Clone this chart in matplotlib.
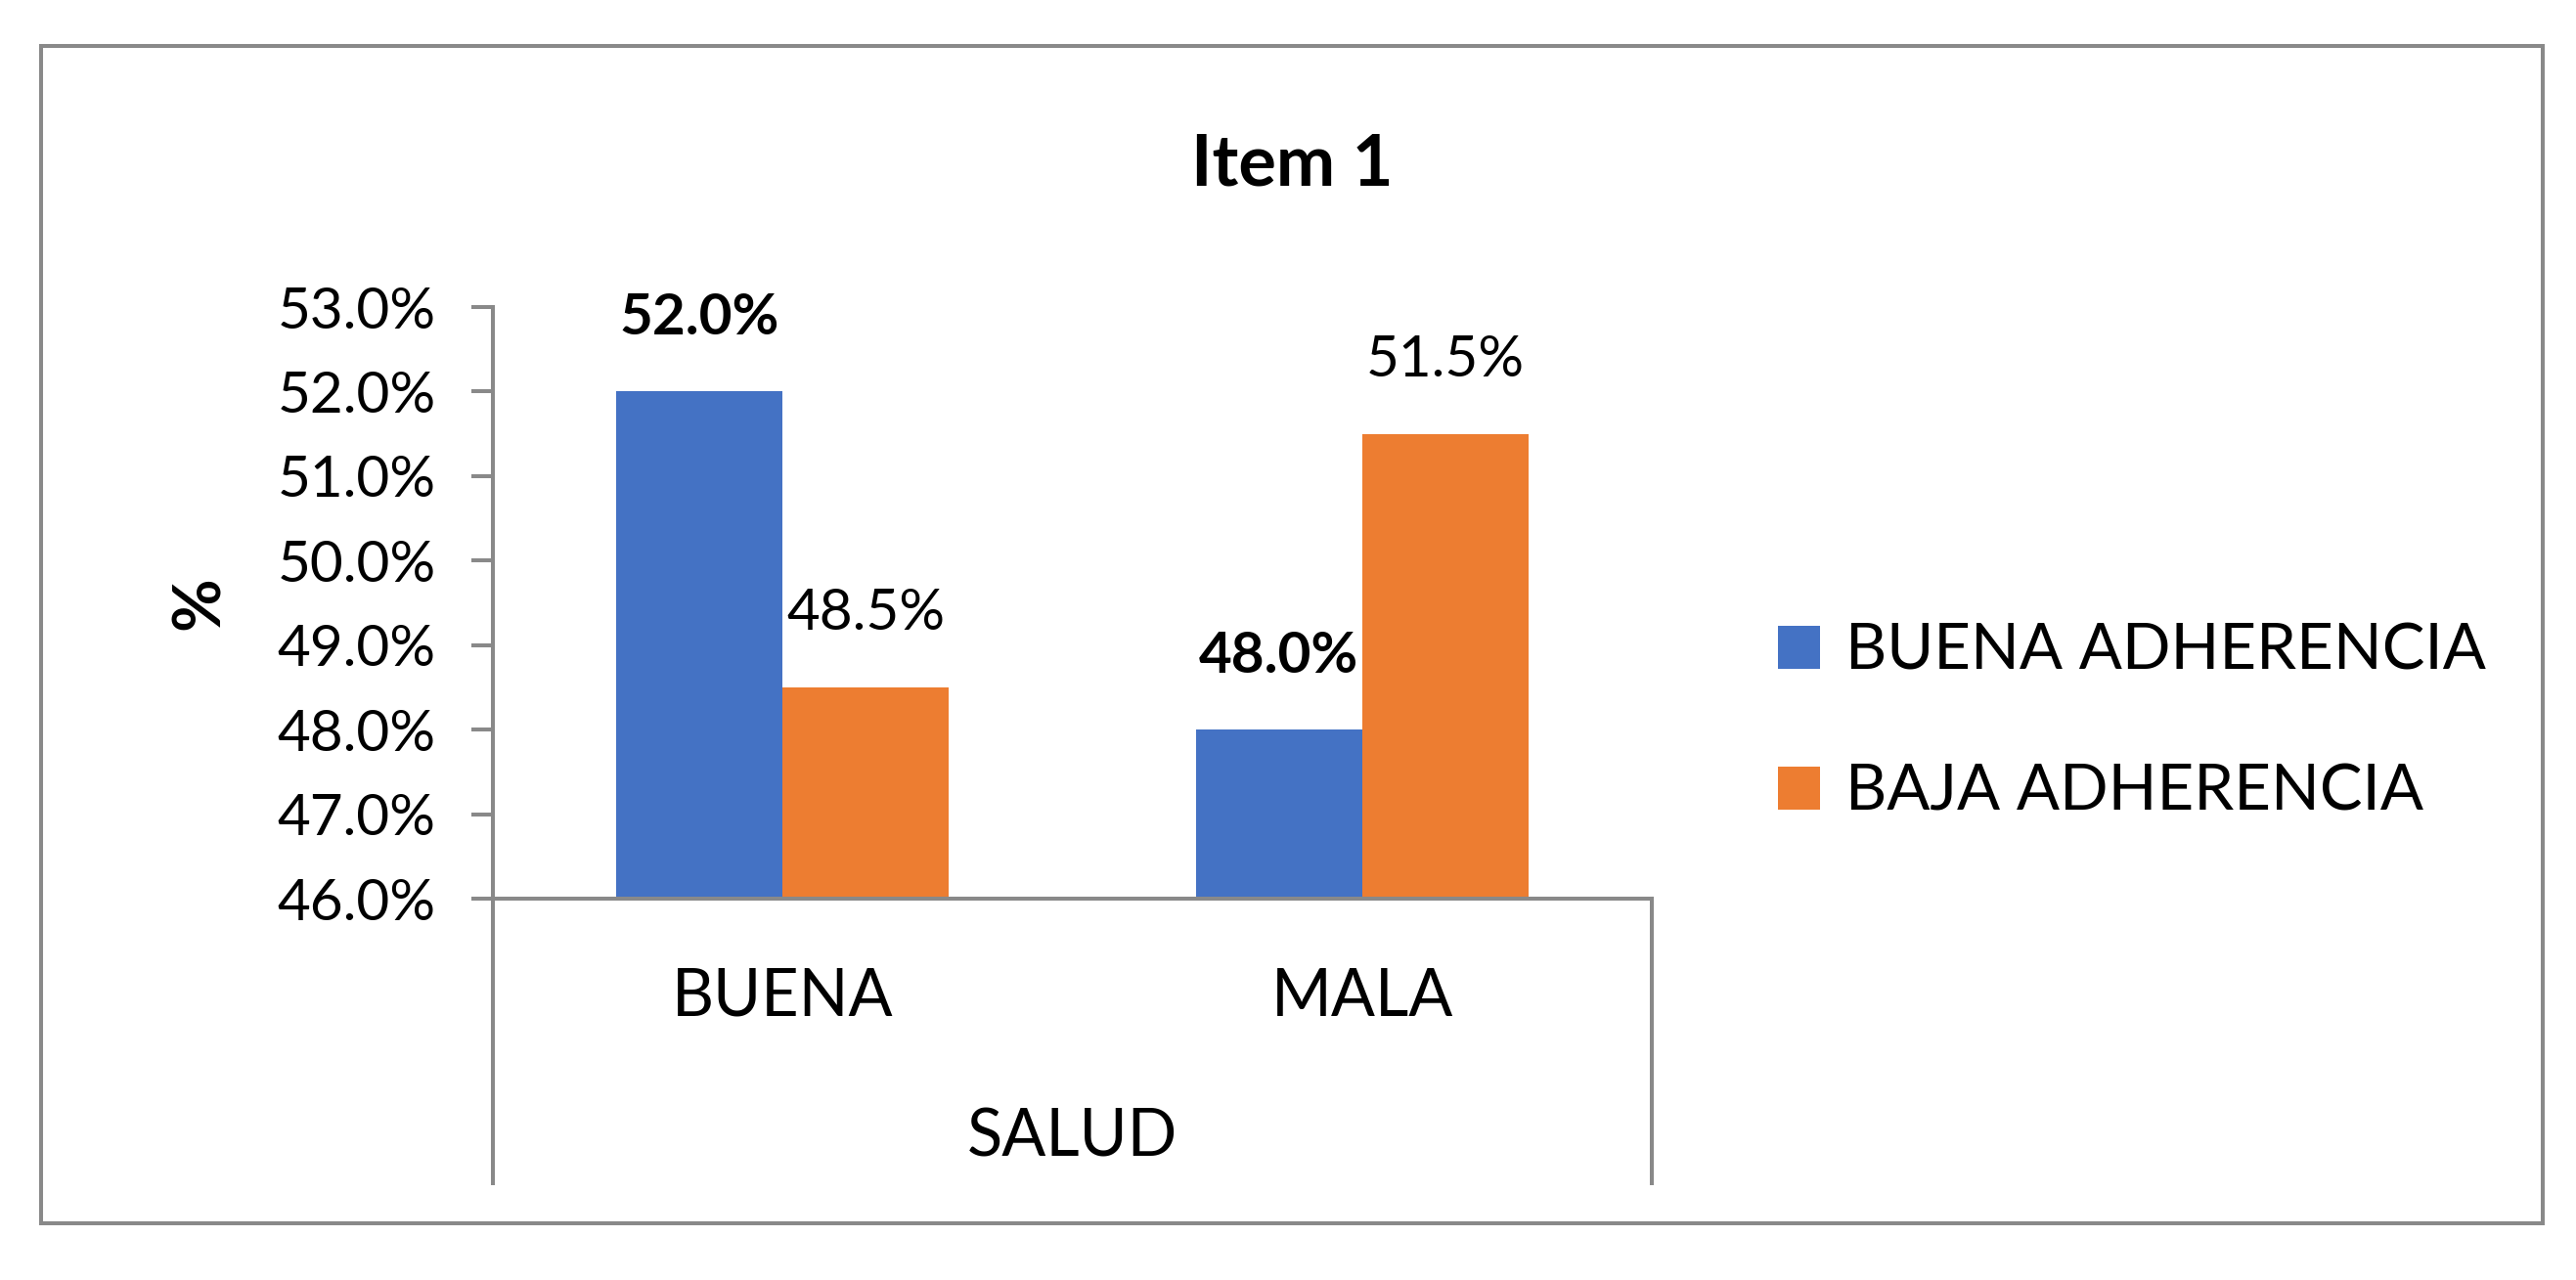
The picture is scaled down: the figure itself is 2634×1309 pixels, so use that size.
import matplotlib.pyplot as plt
import numpy as np
from matplotlib.lines import Line2D
from matplotlib.patches import Rectangle
from matplotlib.ticker import FuncFormatter

plt.rcParams["font.family"] = ["Lato", "DejaVu Sans"]

categories = ["BUENA", "MALA"]
group_label = "SALUD"
series_names = ["BUENA ADHERENCIA", "BAJA ADHERENCIA"]
buena_adherencia = [52.0, 48.0]
baja_adherencia = [48.5, 51.5]
y_ticks = [46, 47, 48, 49, 50, 51, 52, 53]

BLUE = "#4472C4"
ORANGE = "#ED7D31"
GRAY = "#898989"

fig = plt.figure(figsize=(13.17, 6.545), dpi=200)
ax = fig.add_axes([0.1913, 0.2979, 0.4499, 0.4622])

x = np.arange(len(categories))
width = 0.287
bars_b = ax.bar(x - width / 2, buena_adherencia, width, color=BLUE,
                label=series_names[0], zorder=2)
bars_o = ax.bar(x + width / 2, baja_adherencia, width, color=ORANGE,
                label=series_names[1], zorder=2)

ax.set_xlim(-0.5, len(categories) - 0.5)
ax.set_ylim(y_ticks[0], y_ticks[-1])
ax.set_yticks(y_ticks)
ax.yaxis.set_major_formatter(FuncFormatter(lambda v, p: f"{v:.1f}%"))
ax.tick_params(axis="y", length=8, width=1.45, color=GRAY, pad=13, labelsize=21)
ax.set_xticks([])

for side in ["top", "right"]:
    ax.spines[side].set_visible(False)
for side in ["left", "bottom"]:
    ax.spines[side].set_color(GRAY)
    ax.spines[side].set_linewidth(1.45)

# data labels: blue bold, orange regular
for rect, v in zip(bars_b, buena_adherencia):
    ax.annotate(f"{v:.1f}%", (rect.get_x() + rect.get_width() / 2, v),
                xytext=(0, 17.5), textcoords="offset points", ha="center",
                va="bottom", fontsize=21, fontweight="bold")
for rect, v in zip(bars_o, baja_adherencia):
    ax.annotate(f"{v:.1f}%", (rect.get_x() + rect.get_width() / 2, v),
                xytext=(0, 17.5), textcoords="offset points", ha="center",
                va="bottom", fontsize=21)

# multi-level category axis
for xa in [0, 1]:
    ax.add_line(Line2D([xa, xa], [0, -0.481], transform=ax.transAxes,
                       color=GRAY, lw=1.45, clip_on=False))
for i, c in enumerate(categories):
    ax.text(i, -0.198, c, transform=ax.get_xaxis_transform(), ha="center",
            va="baseline", fontsize=24)
ax.text(0.5, -0.436, group_label, transform=ax.transAxes, ha="center",
        va="baseline", fontsize=24)

ax.set_ylabel("%", fontsize=24, fontweight="bold", labelpad=17)

fig.text(0.5015, 0.855, "Item 1", ha="center", va="baseline", fontsize=26,
         fontweight="bold")

fig.legend(handles=[bars_b, bars_o], labels=series_names, loc="center left",
           bbox_to_anchor=(0.668, 0.436), frameon=False, fontsize=23.5,
           handlelength=0.65, handleheight=0.65, handletextpad=0.4,
           labelspacing=1.3)

fig.patches.append(Rectangle((0.016, 0.044), 0.971, 0.92, transform=fig.transFigure,
                             fill=False, edgecolor=GRAY, lw=1.45))

fig.savefig("out.png", dpi=200)
